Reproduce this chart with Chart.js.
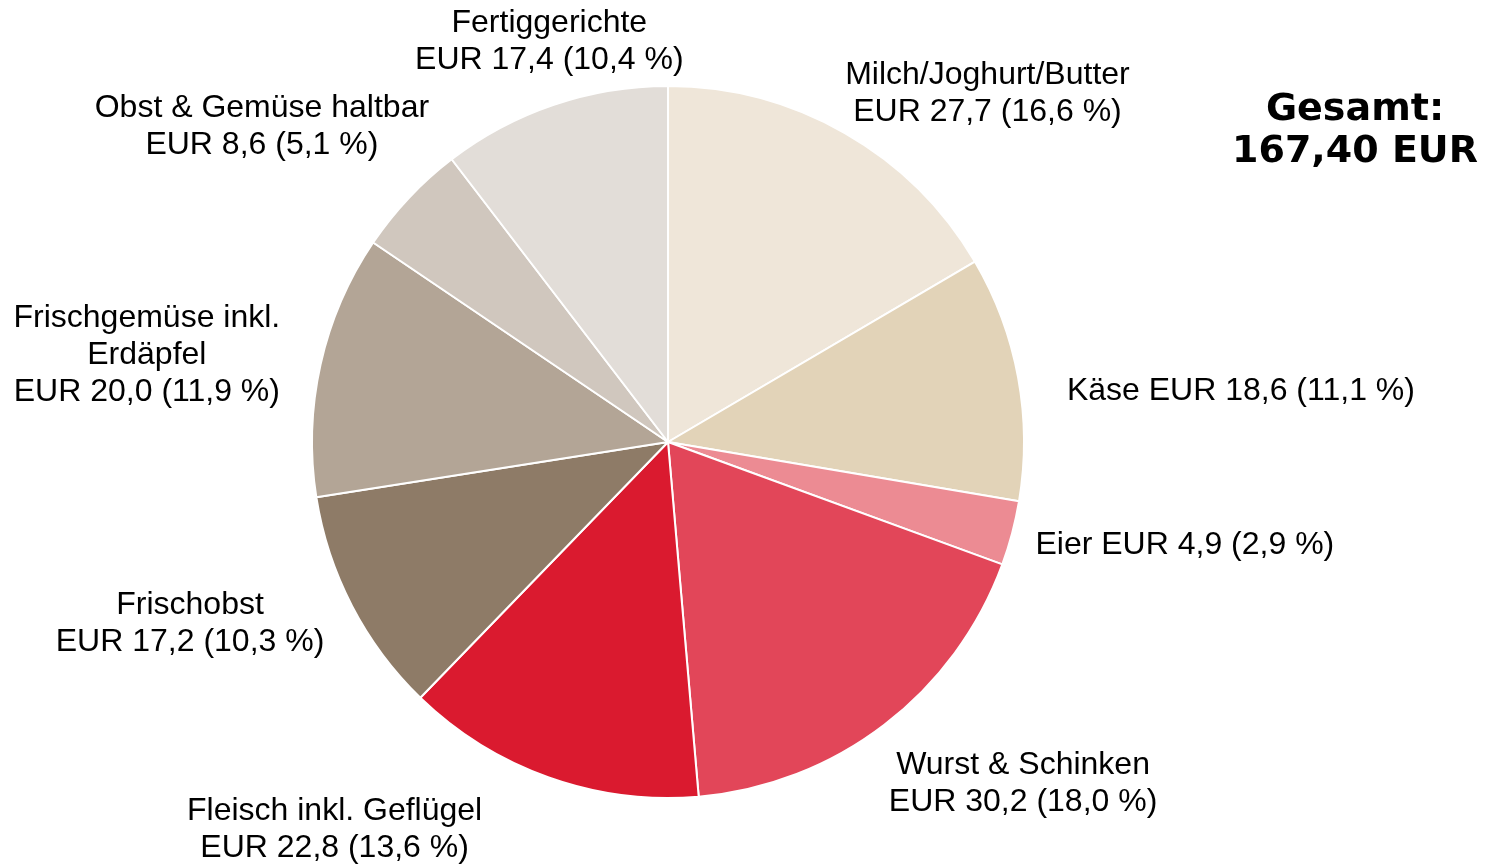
<!DOCTYPE html>
<html lang="de">
<head>
<meta charset="utf-8">
<title>Einkauf</title>
<script src="https://cdn.jsdelivr.net/npm/chart.js@4.4.0/dist/chart.umd.min.js"></script>
<style>
  html, body { margin: 0; padding: 0; background: #fff; }
  #wrap { width: 1487px; height: 865px; }
</style>
</head>
<body>
<div id="wrap"><canvas id="pieChart" width="1487" height="865"></canvas></div>
<script>
// data (clockwise from 12 o'clock)
const categories = [
  ["Milch/Joghurt/Butter"],
  ["Käse"],
  ["Eier"],
  ["Wurst & Schinken"],
  ["Fleisch inkl. Geflügel"],
  ["Frischobst"],
  ["Frischgemüse inkl.", "Erdäpfel"],
  ["Obst & Gemüse haltbar"],
  ["Fertiggerichte"],
];
const values = [27.7, 18.6, 4.9, 30.2, 22.8, 17.2, 20.0, 8.6, 17.4];
// shares as printed in the labels (%)
const shares = [16.6, 11.1, 2.9, 18.0, 13.6, 10.3, 11.9, 5.1, 10.4];
const totalEUR = 167.40;
const colors = ["#EFE6D9", "#E2D3B8", "#EC8B93", "#E24659", "#DA1A2F", "#8E7B67", "#B3A596", "#D0C7BE", "#E2DDD8"];

// labels that sit on one line with the amount
const inlineLabel = [false, true, true, false, false, false, false, false, false];
// small nudges of the outside labels (px)
const labelNudge = [[62, 10], [32, 21], [9, 2], [45, 14], [-158, -1], [-25, -9], [-24, 7], [-11, -32], [45, -9]];

const fmt = (v, d) => v.toFixed(d).replace(".", ",");

function labelLines(i) {
  const amount = "EUR " + fmt(values[i], 1) + " (" + fmt(shares[i], 1) + " %)";
  const name = categories[i];
  if (inlineLabel[i]) return [name.join(" ") + " " + amount];
  return [...name, amount];
}

const LABEL_FONT = "32px 'Liberation Sans', Arial, sans-serif";
const LINE_H = 37;

const outsideLabels = {
  id: "outsideLabels",
  afterDatasetsDraw(chart) {
    const ctx = chart.ctx;
    const meta = chart.getDatasetMeta(0);
    ctx.save();
    ctx.font = LABEL_FONT;
    ctx.fillStyle = "#000";
    ctx.textAlign = "center";
    ctx.textBaseline = "middle";
    meta.data.forEach((arc, i) => {
      const p = arc.getProps(["x", "y", "startAngle", "endAngle", "outerRadius"], true);
      const mid = (p.startAngle + p.endAngle) / 2;
      const dx = Math.cos(mid), dy = Math.sin(mid);
      const lines = labelLines(i);
      const w = Math.max(...lines.map((l) => ctx.measureText(l).width));
      const h = lines.length * LINE_H;
      const r = p.outerRadius + 20;
      const cx = p.x + dx * r + dx * w / 2 + labelNudge[i][0];
      const cy = p.y + dy * r + dy * h / 2 + labelNudge[i][1];
      lines.forEach((l, k) => ctx.fillText(l, cx, cy - h / 2 + LINE_H * (k + 0.5)));
    });

    // total in the top right corner
    ctx.font = "bold 38px 'DejaVu Sans', sans-serif";
    ctx.fillText("Gesamt:", 1355, 110);
    ctx.fillText(fmt(totalEUR, 2) + " EUR", 1355, 152);
    ctx.restore();
  },
};

new Chart(document.getElementById("pieChart"), {
  type: "pie",
  data: {
    labels: categories.map((c) => c.join(" ")),
    datasets: [
      {
        data: values,
        backgroundColor: colors,
        borderColor: "#fff",
        borderWidth: 2,
      },
    ],
  },
  options: {
    responsive: false,
    animation: false,
    layout: { padding: { top: 85, bottom: 66, left: 0, right: 151 } },
    plugins: {
      legend: { display: false },
      tooltip: { enabled: false },
    },
  },
  plugins: [outsideLabels],
});
</script>
</body>
</html>
